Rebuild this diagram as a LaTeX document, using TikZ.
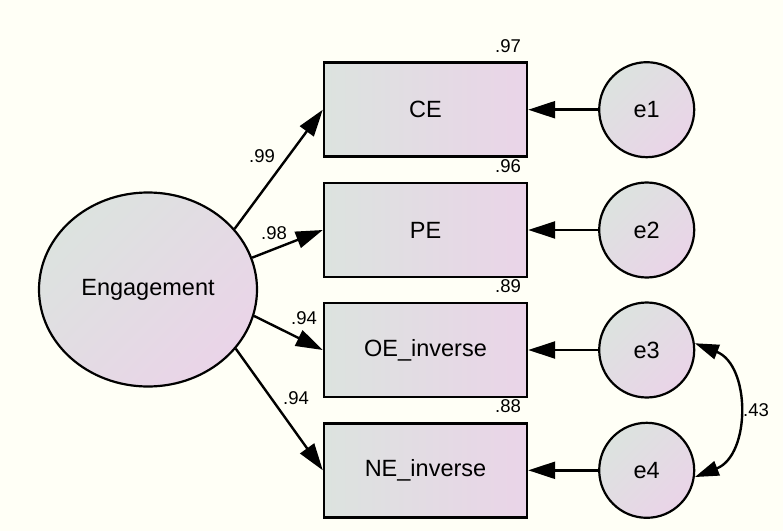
\documentclass[tikz,border=0pt]{standalone}
\usepackage{fontspec}
\setmainfont{Liberation Sans}
\usetikzlibrary{arrows.meta,shapes.geometric}
\definecolor{bg}{HTML}{FFFFF6}
\definecolor{fillL}{HTML}{DCE3DF}
\definecolor{fillR}{HTML}{EAD4E8}
\begin{document}
\begin{tikzpicture}[x=1pt,y=1pt,
  obs/.style={draw=black, line width=2.4pt, minimum width=203pt, minimum height=94pt,
    inner sep=0pt, left color=fillL, right color=fillR,
    font=\fontsize{23.5}{26}\selectfont},
  lat/.style={ellipse, draw=black, line width=2.2pt, minimum width=218pt, minimum height=194pt,
    inner sep=0pt, top color=fillL, bottom color=fillR, shading angle=45,
    font=\fontsize{23.5}{26}\selectfont},
  err/.style={circle, draw=black, line width=2.2pt, minimum size=95pt, inner sep=0pt,
    top color=fillL, bottom color=fillR, shading angle=45,
    font=\fontsize{23.5}{26}\selectfont},
  reg/.style={line width=2.4pt, -{Triangle[length=27pt,width=17pt]}},
  cov/.style={line width=2.4pt, {Triangle[length=24pt,width=15pt]}-{Triangle[length=24pt,width=15pt]}},
  num/.style={inner sep=0pt, font=\fontsize{18.5}{21}\selectfont}
]
\fill[bg] (0,0) rectangle (783,531);
\useasboundingbox (0,0) rectangle (783,531);

\node[lat] (eng) at (148,241.5) {Engagement};

\node[obs] (ce) at (425.5,421.3) {CE};
\node[obs] (pe) at (425.5,301) {PE};
\node[obs] (oe) at (425.5,181) {OE\_inverse};
\node[obs] (ne) at (425.5,60.7) {NE\_inverse};

\node[err] (e1) at (646.7,421.3) {e1};
\node[err] (e2) at (646.7,301) {e2};
\node[err] (e3) at (646.7,181) {e3};
\node[err] (e4) at (646.7,60.7) {e4};

\draw[reg] (eng.35) -- (ce.west);
\draw[reg] (eng.17) -- (pe.west);
\draw[reg] (eng.-14) -- (oe.west);
\draw[reg] (eng.-34) -- (ne.west);

\draw[reg] (e1) -- (ce);
\draw[reg] (e2) -- (pe);
\draw[reg] (e3) -- (oe);
\draw[reg] (e4) -- (ne);

\draw[cov] (e3.8) .. controls +(56,-22) and +(56,22) .. (e4.-8);

\node[num] (r1) at (508,484.5) {.97};
\node[num] (r2) at (508,365) {.96};
\node[num] (r3) at (508,245) {.89};
\node[num] (r4) at (508,125) {.88};

\node[num] (w1) at (262,375) {.99};
\node[num] (w2) at (274,298) {.98};
\node[num] (w3) at (304,213) {.94};
\node[num] (w4) at (296,133) {.94};
\node[num] (c34) at (756,121) {.43};
\end{tikzpicture}
\end{document}
